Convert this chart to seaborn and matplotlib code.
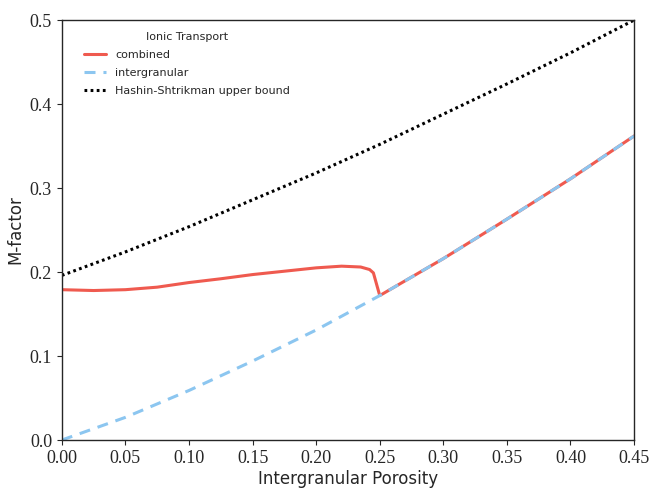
import matplotlib
matplotlib.use("Agg")
import matplotlib.pyplot as plt
import seaborn as sns
import pandas as pd

# data
porosity = [0.00, 0.05, 0.10, 0.15, 0.20, 0.25, 0.30, 0.35, 0.40, 0.45]
intergranular = [0.000, 0.027, 0.059, 0.094, 0.131, 0.172, 0.216, 0.263, 0.311, 0.362]
hashin_shtrikman = [0.196, 0.224, 0.254, 0.286, 0.318, 0.352, 0.388, 0.424, 0.461, 0.500]

combined_x = [0.00, 0.025, 0.05, 0.075, 0.10, 0.125, 0.15, 0.175, 0.20, 0.22,
              0.235, 0.242, 0.245, 0.25, 0.30, 0.35, 0.40, 0.45]
combined_y = [0.179, 0.178, 0.179, 0.182, 0.1875, 0.192, 0.197, 0.201, 0.205, 0.207,
              0.206, 0.203, 0.199, 0.172, 0.216, 0.263, 0.311, 0.362]

xticks = [0.00, 0.05, 0.10, 0.15, 0.20, 0.25, 0.30, 0.35, 0.40, 0.45]
yticks = [0.0, 0.1, 0.2, 0.3, 0.4, 0.5]

sns.set_style("ticks")
plt.rcParams['font.family'] = ['DejaVu Sans']

fig = plt.figure(figsize=(6.51, 4.90), dpi=100)
ax = fig.add_axes([0.095, 0.102, 0.879, 0.857])

red = "#ef5a4f"
blue = "#8cc6f0"

sns.lineplot(x=combined_x, y=combined_y, ax=ax, color=red, lw=2.2, label="combined", sort=False)
sns.lineplot(x=porosity, y=intergranular, ax=ax, color=blue, lw=2.2, label="intergranular",
             linestyle=(0, (3.6, 2.6)))
sns.lineplot(x=porosity, y=hashin_shtrikman, ax=ax, color="black", lw=2.2,
             label="Hashin-Shtrikman upper bound", linestyle=(0, (0.9, 1.1)))

ax.set_xlim(0, 0.45)
ax.set_ylim(0, 0.5)
ax.set_xticks(xticks)
ax.set_yticks(yticks)
ax.set_xticklabels([f"{v:.2f}" for v in xticks], family="Liberation Serif", fontsize=13)
ax.set_yticklabels([f"{v:.1f}" for v in yticks], family="Liberation Serif", fontsize=13)
ax.set_xlabel("Intergranular Porosity", fontsize=12, labelpad=2)
ax.set_ylabel("M-factor", fontsize=12, labelpad=4)
for s in ax.spines.values():
    s.set_linewidth(1.0)
    s.set_visible(True)

leg = ax.legend(title="Ionic Transport", loc="upper left", frameon=False, fontsize=8,
                title_fontsize=8, handlelength=2.0, borderaxespad=0.67,
                bbox_to_anchor=(0.018, 1.0), labelspacing=0.72)

fig.savefig("out.png", dpi=100)
